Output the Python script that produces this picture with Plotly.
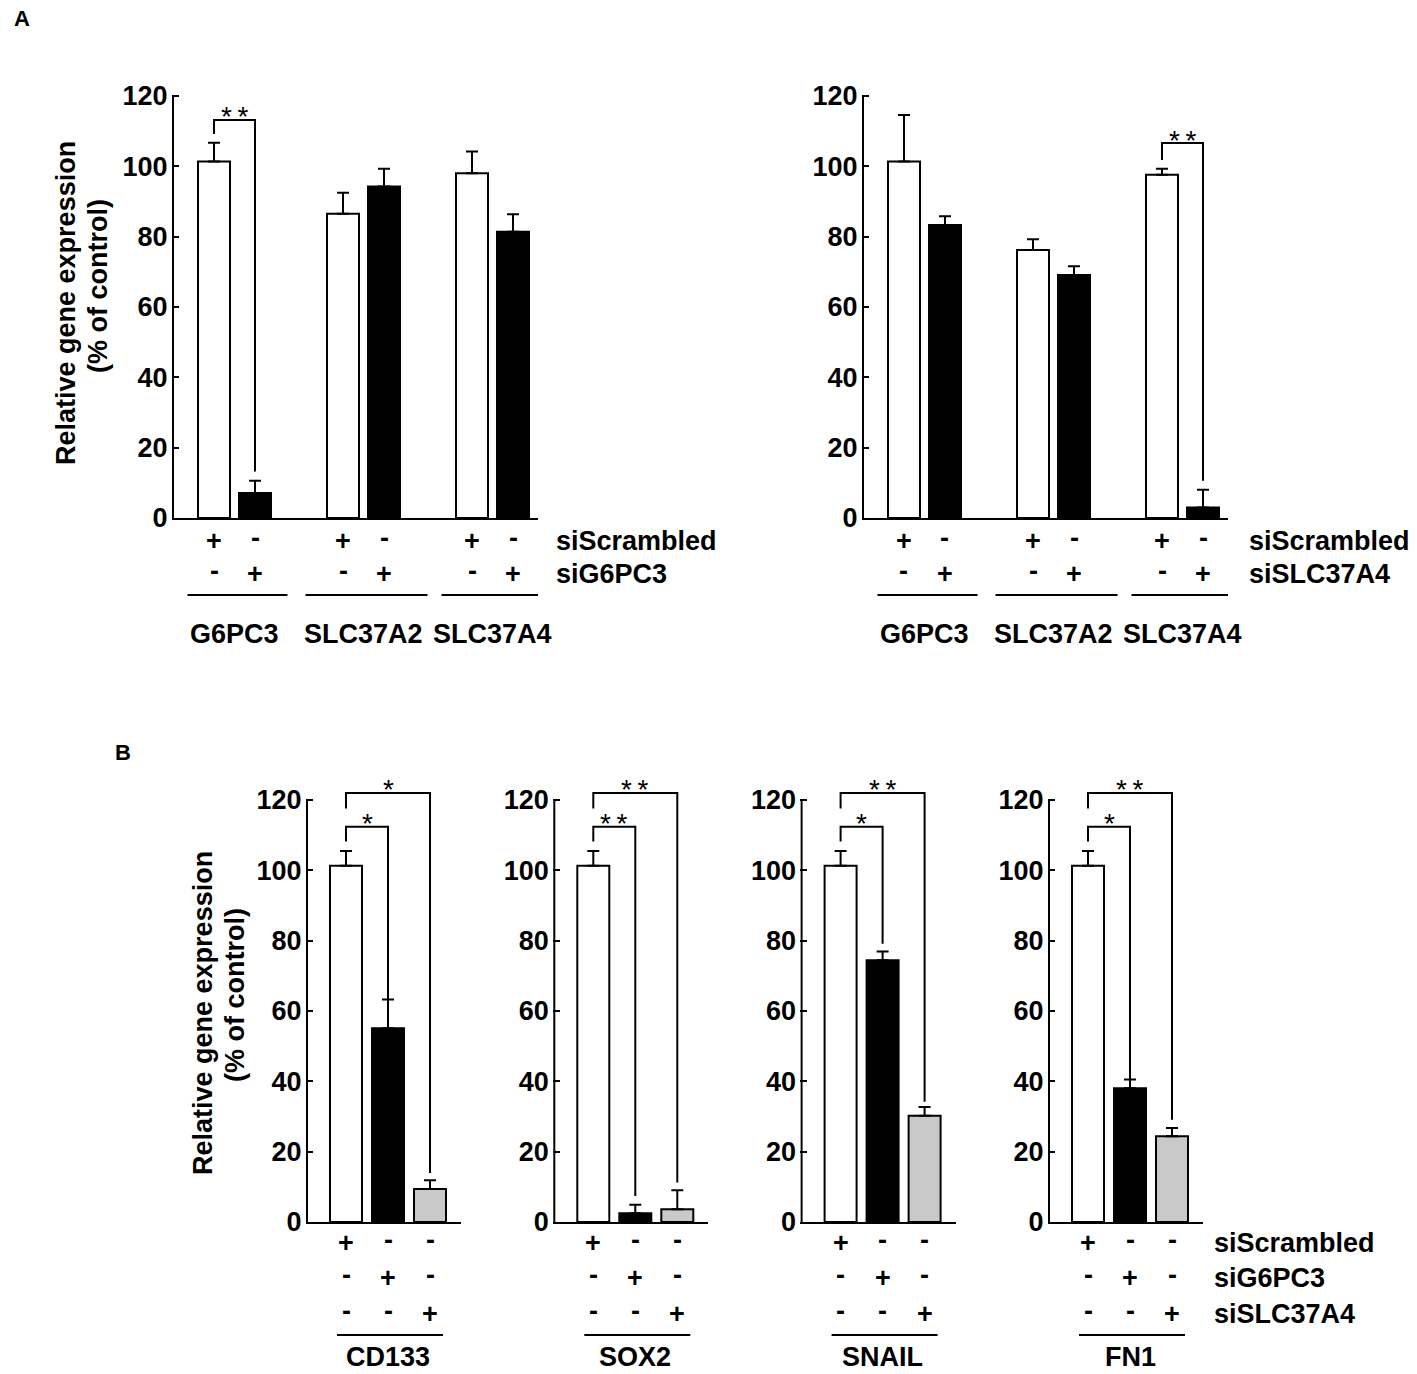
import plotly.graph_objects as go

W, H = 1417, 1374          # reference picture size (coordinate system for layout)
FIG_H = 1389               # rendered page height (screenshot is rescaled to 1374)

# ---------------- data ----------------
genes_A = ["G6PC3", "SLC37A2", "SLC37A4"]
# Panel A, left (siG6PC3)
a1_scr = [101.4, 86.5, 98.0]
a1_scr_err = [5.3, 6.0, 6.2]
a1_si = [7.1, 94.3, 81.4]
a1_si_err = [3.5, 5.0, 5.0]
# Panel A, right (siSLC37A4)
a2_scr = [101.4, 76.2, 97.6]
a2_scr_err = [13.2, 3.1, 1.7]
a2_si = [83.3, 69.1, 3.0]
a2_si_err = [2.5, 2.5, 5.0]

genes_B = ["CD133", "SOX2", "SNAIL", "FN1"]
b_scr = [101.3, 101.3, 101.3, 101.3]
b_scr_err = [4.2, 4.2, 4.2, 4.2]
b_g6 = [55.1, 2.5, 74.4, 38.0]
b_g6_err = [8.2, 2.4, 2.5, 2.5]
b_slc = [9.4, 3.6, 30.2, 24.4]
b_slc_err = [2.5, 5.4, 2.5, 2.3]

y_ticks = [0, 20, 40, 60, 80, 100, 120]

signs_A = [["+", "-"], ["-", "+"]]
signs_B = [["+", "-", "-"], ["-", "+", "-"], ["-", "-", "+"]]
rows_A1 = ["siScrambled", "siG6PC3"]
rows_A2 = ["siScrambled", "siSLC37A4"]
rows_B = ["siScrambled", "siG6PC3", "siSLC37A4"]

# significance (group index, label, bracket level)
sig_A1 = [(0, "**", 113.2)]
sig_A2 = [(2, "**", 106.6)]
b_inner_stars = ["*", "**", "*", "*"]
b_outer_stars = ["*", "**", "**", "**"]
b_inner_level = 112.4
b_outer_level = 122.0
b_inner_end = [56.3, 7.4, 79.1, 39.4]
b_outer_end = [13.9, 11.2, 34.2, 29.1]

# ---------------- layout constants ----------------
FONT = "Liberation Sans, Arial, sans-serif"
PXU = (518 - 96) / 120.0  # px per y unit
YMAX = 126
BAR_W = 32
GRAY = "#c9c9c9"


def ydom(zero_px):
    top_px = zero_px - YMAX * PXU
    return [(H - zero_px) / H, (H - top_px) / H]


def xdom(axis_px, length):
    return [(axis_px - 1.5) / W, (axis_px + length) / W]


def py(px):
    return 1 - px / H


fig = go.Figure()
annotations = []
shapes = []

txt = dict(family=FONT, size=27, color="black", weight="bold")
star_font = dict(family=FONT, size=28, color="black")

# subplot definitions
A_LEN = 365
B_LEN = 154
subplots = [
    ("x", "y", xdom(173, A_LEN), ydom(518), A_LEN),
    ("x2", "y2", xdom(863, A_LEN), ydom(518), A_LEN),
]
B_AX = [307, 554.3, 801.6, 1049]
for i in range(4):
    subplots.append((f"x{i+3}", f"y{i+3}", xdom(B_AX[i], B_LEN), ydom(1222), B_LEN))

layout_axes = {}
for idx, (xa, ya, xd, yd, ln) in enumerate(subplots):
    xname = "xaxis" if xa == "x" else "xaxis" + xa[1:]
    yname = "yaxis" if ya == "y" else "yaxis" + ya[1:]
    layout_axes[xname] = dict(domain=xd, range=[-1.5, ln], anchor=ya, showline=True,
                              linecolor="black", linewidth=2, showticklabels=False,
                              ticks="", showgrid=False, zeroline=False, fixedrange=True)
    layout_axes[yname] = dict(domain=yd, range=[0, YMAX], anchor=xa, showline=False,
                              tickvals=y_ticks, ticktext=[str(v) for v in y_ticks],
                              ticks="inside", ticklen=7, tickwidth=2, tickcolor="black",
                              tickfont=txt, showgrid=False, zeroline=False, fixedrange=True,
                              ticklabelstandoff=3)
    # y-axis line from 0 to 120
    fig.add_trace(go.Scatter(x=[0, 0], y=[0, y_ticks[-1]], mode="lines",
                             line=dict(color="black", width=2), xaxis=xa, yaxis=ya,
                             hoverinfo="skip", showlegend=False))


def errbar(err):
    return dict(type="data", symmetric=False, array=err, arrayminus=[0] * len(err),
                color="black", thickness=2, width=6)


def bracket(xa, ya, x0, x1, y_left, level, y_right, label):
    fig.add_trace(go.Scatter(x=[x0, x0, x1, x1], y=[y_left, level, level, y_right],
                             mode="lines", line=dict(color="black", width=2),
                             xaxis=xa, yaxis=ya, hoverinfo="skip", showlegend=False))
    annotations.append(dict(x=(x0 + x1) / 2, y=level, xref=xa, yref=ya,
                            text=label.replace("**", "*\u2009*"),
                            showarrow=False, xanchor="center", yanchor="middle", yshift=3,
                            font=star_font))


# ---------------- Panel A ----------------
A_GAP, A_OFF, A_STEP = 129, 41, 41
A_LINE_HALF = [50, 61, 54]
panelA = [
    ("x", "y", a1_scr, a1_scr_err, a1_si, a1_si_err, rows_A1, sig_A1, 554),
    ("x2", "y2", a2_scr, a2_scr_err, a2_si, a2_si_err, rows_A2, sig_A2, 1247),
]
for xa, ya, scr, scr_e, si, si_e, rows, sigs, row_x in panelA:
    xs_scr = [A_OFF + g * A_GAP for g in range(len(genes_A))]
    xs_si = [A_OFF + A_STEP + g * A_GAP for g in range(len(genes_A))]
    fig.add_trace(go.Bar(x=xs_scr, y=scr, width=BAR_W, marker=dict(color="white",
                         line=dict(color="black", width=2)), error_y=errbar(scr_e),
                         xaxis=xa, yaxis=ya, showlegend=False))
    fig.add_trace(go.Bar(x=xs_si, y=si, width=BAR_W, marker=dict(color="black",
                         line=dict(color="black", width=2)), error_y=errbar(si_e),
                         xaxis=xa, yaxis=ya, showlegend=False))
    row_px = [541, 574]
    for r, row in enumerate(signs_A):
        for g in range(len(genes_A)):
            for k, s in enumerate(row):
                annotations.append(dict(x=A_OFF + k * A_STEP + g * A_GAP, y=py(row_px[r]),
                                        xref=xa, yref="paper", text=s, showarrow=False,
                                        xanchor="center", yanchor="middle",
                                        yshift=3 if s == "-" else 0, font=txt))
        annotations.append(dict(x=row_x / W, y=py(row_px[r]), xref="paper", yref="paper",
                                text=rows[r], showarrow=False, xanchor="left",
                                yanchor="middle", font=txt))
    for g, gene in enumerate(genes_A):
        c = A_OFF + A_STEP / 2 + g * A_GAP
        shapes.append(dict(type="line", xref=xa, yref="paper",
                           x0=c + 3 - A_LINE_HALF[g], x1=c + 3 + A_LINE_HALF[g],
                           y0=py(595), y1=py(595), line=dict(color="black", width=2)))
        annotations.append(dict(x=c, y=py(634), xref=xa, yref="paper", text=gene,
                                showarrow=False, xanchor="center", yanchor="middle", font=txt))
    for g, lab, level in sigs:
        x0 = xs_scr[g]
        x1 = xs_si[g]
        bracket(xa, ya, x0, x1, scr[g] + scr_e[g] + 2.5, level, si[g] + si_e[g] + 2.6, lab)

# ---------------- Panel B ----------------
B_OFF, B_STEP = 39, 42
row_px_B = [1243, 1278, 1314]
for i, gene in enumerate(genes_B):
    xa, ya = f"x{i+3}", f"y{i+3}"
    xs = [B_OFF + k * B_STEP for k in range(3)]
    fig.add_trace(go.Bar(x=xs, y=[b_scr[i], b_g6[i], b_slc[i]], width=BAR_W,
                         marker=dict(color=["white", "black", GRAY],
                                     line=dict(color="black", width=2)),
                         error_y=errbar([b_scr_err[i], b_g6_err[i], b_slc_err[i]]),
                         xaxis=xa, yaxis=ya, showlegend=False))
    for r, row in enumerate(signs_B):
        for k, s in enumerate(row):
            annotations.append(dict(x=xs[k], y=py(row_px_B[r]), xref=xa, yref="paper",
                                    text=s, showarrow=False, xanchor="center",
                                    yanchor="middle", yshift=3 if s == "-" else 0, font=txt))
    shapes.append(dict(type="line", xref=xa, yref="paper", x0=30, x1=136,
                       y0=py(1335), y1=py(1335), line=dict(color="black", width=2)))
    annotations.append(dict(x=xs[1], y=py(1357), xref=xa, yref="paper", text=gene,
                            showarrow=False, xanchor="center", yanchor="middle", font=txt))
    left_top = b_scr[i] + b_scr_err[i]
    bracket(xa, ya, xs[0], xs[1], left_top + 2.7, b_inner_level, b_inner_end[i], b_inner_stars[i])
    bracket(xa, ya, xs[0], xs[2], b_inner_level + 5.2, b_outer_level, b_outer_end[i], b_outer_stars[i])

for r, lab in enumerate(rows_B):
    annotations.append(dict(x=1212 / W, y=py(row_px_B[r]), xref="paper", yref="paper",
                            text=lab, showarrow=False, xanchor="left", yanchor="middle",
                            font=txt))

# ---------------- titles / panel letters ----------------
for (cx1, cy1, cx2, cy2) in [(66, 303, 98, 286), (203, 1013, 235, 995)]:
    annotations.append(dict(x=cx1 / W, y=py(cy1), xref="paper", yref="paper",
                            text="Relative gene expression", textangle=-90, showarrow=False,
                            xanchor="center", yanchor="middle", font=txt))
    annotations.append(dict(x=cx2 / W, y=py(cy2), xref="paper", yref="paper",
                            text="(% of control)", textangle=-90, showarrow=False,
                            xanchor="center", yanchor="middle", font=txt))

letter = dict(family=FONT, size=22, color="black", weight="bold")
annotations.append(dict(x=21.5 / W, y=py(18), xref="paper", yref="paper", text="A",
                        showarrow=False, xanchor="center", yanchor="middle", font=letter))
annotations.append(dict(x=123 / W, y=py(752), xref="paper", yref="paper", text="B",
                        showarrow=False, xanchor="center", yanchor="middle", font=letter))

fig.update_layout(width=W, height=FIG_H, margin=dict(l=0, r=0, t=0, b=0),
                  paper_bgcolor="white", plot_bgcolor="white", barmode="overlay",
                  showlegend=False, annotations=annotations, shapes=shapes,
                  font=dict(family=FONT, color="black"), **layout_axes)

post = (
    "document.documentElement.style.margin='0';"
    "document.body.style.margin='0';"
    "document.body.style.overflow='hidden';"
    "var gdv=document.querySelector('.plotly-graph-div');"
    "gdv.style.position='absolute';gdv.style.top='0';gdv.style.left='0';"
)
fig.write_html("out.html", config=dict(displayModeBar=False), post_script=post)
